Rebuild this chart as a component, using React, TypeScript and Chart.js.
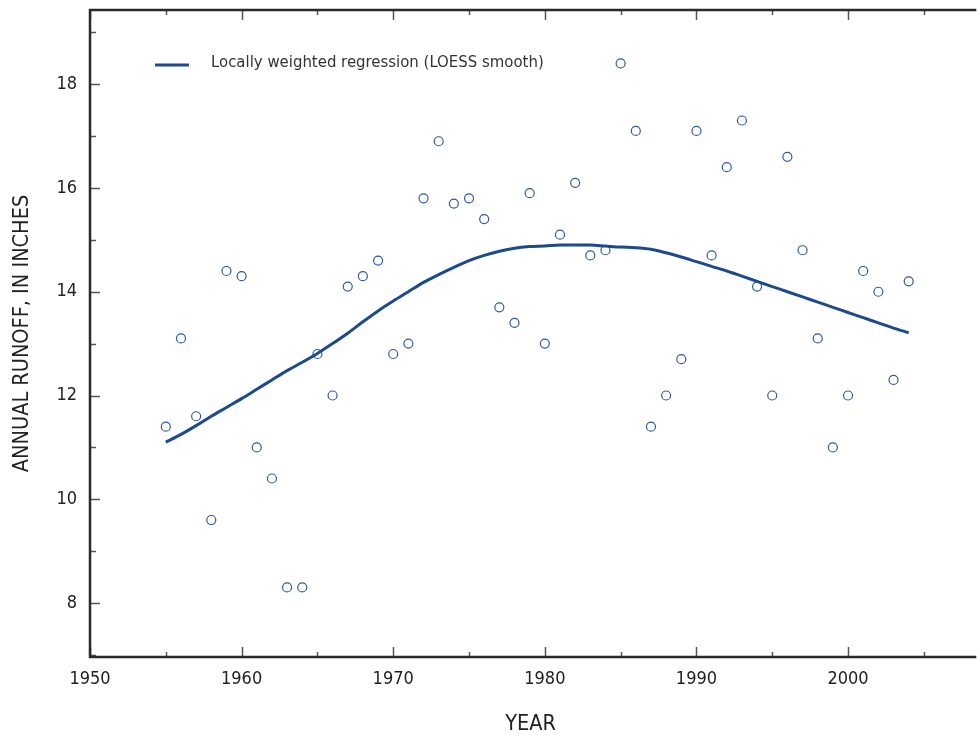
import React, { useEffect, useRef } from "react";
import { Chart, registerables } from "chart.js";

Chart.register(...registerables);

const years: number[] = [
  1955, 1956, 1957, 1958, 1959, 1960, 1961, 1962, 1963, 1964,
  1965, 1966, 1967, 1968, 1969, 1970, 1971, 1972, 1973, 1974,
  1975, 1976, 1977, 1978, 1979, 1980, 1981, 1982, 1983, 1984,
  1985, 1986, 1987, 1988, 1989, 1990, 1991, 1992, 1993, 1994,
  1995, 1996, 1997, 1998, 1999, 2000, 2001, 2002, 2003, 2004,
];

const runoff: number[] = [
  11.4, 13.1, 11.6, 9.6, 14.4, 14.3, 11.0, 10.4, 8.3, 8.3,
  12.8, 12.0, 14.1, 14.3, 14.6, 12.8, 13.0, 15.8, 16.9, 15.7,
  15.8, 15.4, 13.7, 13.4, 15.9, 13.0, 15.1, 16.1, 14.7, 14.8,
  18.4, 17.1, 11.4, 12.0, 12.7, 17.1, 14.7, 16.4, 17.3, 14.1,
  12.0, 16.6, 14.8, 13.1, 11.0, 12.0, 14.4, 14.0, 12.3, 14.2,
];

const loess: number[] = [
  11.10, 11.25, 11.42, 11.60, 11.77, 11.94, 12.12, 12.30, 12.48, 12.64,
  12.81, 13.00, 13.20, 13.42, 13.63, 13.82, 14.00, 14.18, 14.33, 14.47,
  14.60, 14.70, 14.78, 14.84, 14.87, 14.88, 14.90, 14.90, 14.90, 14.88,
  14.86, 14.85, 14.82, 14.75, 14.67, 14.58, 14.49, 14.40, 14.30, 14.20,
  14.10, 14.00, 13.90, 13.80, 13.70, 13.60, 13.50, 13.40, 13.30, 13.21,
];

const xMajorTicks: number[] = [1950, 1960, 1970, 1980, 1990, 2000];
const xMinorTicks: number[] = [1955, 1965, 1975, 1985, 1995, 2005];
const yMajorTicks: number[] = [8, 10, 12, 14, 16, 18];
const yMinorTicks: number[] = [7, 9, 11, 13, 15, 17, 19];

const legendLabel = "Locally weighted regression (LOESS smooth)";
const xTitle = "YEAR";
const yTitle = "ANNUAL RUNOFF, IN INCHES";

const FONT = "'Liberation Sans Narrow', 'DejaVu Sans Condensed', 'Roboto Condensed', 'Liberation Sans', sans-serif";
const LINE_COLOR = "#1d4a8a";
const POINT_COLOR = "#2d5a9e";
const AXIS_COLOR = "#2a2a2a";
const TICK_COLOR = "#555555";
const TEXT_COLOR = "#222222";

const framePlugin = {
  id: "framePlugin",
  afterDraw(chart: any) {
    const { ctx, chartArea, scales } = chart;
    const x = scales.x;
    const y = scales.y;
    const { left, top, right, bottom } = chartArea;
    ctx.save();
    ctx.strokeStyle = TICK_COLOR;
    ctx.lineWidth = 1.5;
    ctx.beginPath();
    const drawX = (v: number, len: number) => {
      const px = Math.round(x.getPixelForValue(v)) + 0.5;
      ctx.moveTo(px, bottom);
      ctx.lineTo(px, bottom - len);
      ctx.moveTo(px, top);
      ctx.lineTo(px, top + len);
    };
    const drawY = (v: number, len: number) => {
      const py = Math.round(y.getPixelForValue(v)) + 0.5;
      ctx.moveTo(left, py);
      ctx.lineTo(left + len, py);
    };
    xMajorTicks.forEach((v) => drawX(v, 10));
    xMinorTicks.forEach((v) => drawX(v, 5));
    yMajorTicks.forEach((v) => drawY(v, 10));
    yMinorTicks.forEach((v) => drawY(v, 6));
    ctx.stroke();
    ctx.strokeStyle = AXIS_COLOR;
    ctx.lineWidth = 2.5;
    ctx.beginPath();
    ctx.moveTo(right + 5, top);
    ctx.lineTo(left, top);
    ctx.lineTo(left, bottom);
    ctx.lineTo(right + 5, bottom);
    ctx.stroke();
    const lx = left + 65;
    const ly = top + 55;
    ctx.strokeStyle = LINE_COLOR;
    ctx.lineWidth = 3;
    ctx.beginPath();
    ctx.moveTo(lx, ly);
    ctx.lineTo(lx + 34, ly);
    ctx.stroke();
    ctx.fillStyle = "#333333";
    ctx.font = `16.6px ${FONT}`;
    ctx.textBaseline = "middle";
    ctx.textAlign = "left";
    ctx.fillText(legendLabel, lx + 56, ly - 2);
    ctx.restore();
  },
};

export default function App() {
  const canvasRef = useRef<HTMLCanvasElement | null>(null);

  useEffect(() => {
    document.body.style.margin = "0";
    const canvas = canvasRef.current;
    if (!canvas) return;
    const chart = new Chart(canvas, {
      type: "scatter",
      data: {
        datasets: [
          {
            label: legendLabel,
            data: years.map((yr, i) => ({ x: yr, y: loess[i] })),
            showLine: true,
            borderColor: LINE_COLOR,
            borderWidth: 3,
            pointRadius: 0,
            cubicInterpolationMode: "monotone",
            order: 0,
          } as any,
          {
            label: "Annual runoff",
            data: years.map((yr, i) => ({ x: yr, y: runoff[i] })),
            showLine: false,
            pointStyle: "circle",
            pointRadius: 4.5,
            pointBorderWidth: 1.2,
            pointBorderColor: POINT_COLOR,
            pointBackgroundColor: "rgba(255,255,255,0)",
            order: 1,
          } as any,
        ],
      },
      options: {
        animation: false,
        responsive: false,
        maintainAspectRatio: false,
        layout: { padding: { top: 10, right: 0, bottom: 0, left: 0 } },
        plugins: {
          legend: { display: false },
          tooltip: { enabled: false },
        },
        scales: {
          x: {
            type: "linear",
            min: 1950,
            max: 2008.13,
            grid: { display: false, drawTicks: false },
            border: { display: false },
            afterBuildTicks: (scale: any) => {
              scale.ticks = xMajorTicks.map((v) => ({ value: v }));
            },
            afterFit: (scale: any) => {
              scale.height = 80;
              scale.paddingLeft = 0;
              scale.paddingRight = 0;
            },
            ticks: {
              padding: 12,
              color: TEXT_COLOR,
              font: { family: FONT, size: 18 },
              maxRotation: 0,
              callback: (v: any) => String(v),
            },
            title: {
              display: true,
              text: xTitle,
              color: TEXT_COLOR,
              font: { family: FONT, size: 21.5 },
              padding: { top: 0, bottom: 0 },
            },
          },
          y: {
            type: "linear",
            min: 6.96,
            max: 19.43,
            grid: { display: false, drawTicks: false },
            border: { display: false },
            afterBuildTicks: (scale: any) => {
              scale.ticks = yMajorTicks.map((v) => ({ value: v }));
            },
            afterFit: (scale: any) => {
              scale.width = 90;
              scale.paddingTop = 0;
              scale.paddingBottom = 0;
            },
            ticks: {
              padding: 13,
              color: TEXT_COLOR,
              font: { family: FONT, size: 18 },
              callback: (v: any) => String(v),
            },
            title: {
              display: true,
              text: yTitle,
              color: TEXT_COLOR,
              font: { family: FONT, size: 21.5 },
              padding: { top: 10, bottom: 0 },
            },
          },
        },
      },
      plugins: [framePlugin],
    } as any);
    return () => chart.destroy();
  }, []);

  return (
    <div style={{ width: 977, height: 737 }}>
      <canvas ref={canvasRef} width={977} height={737} style={{ display: "block" }} />
    </div>
  );
}
